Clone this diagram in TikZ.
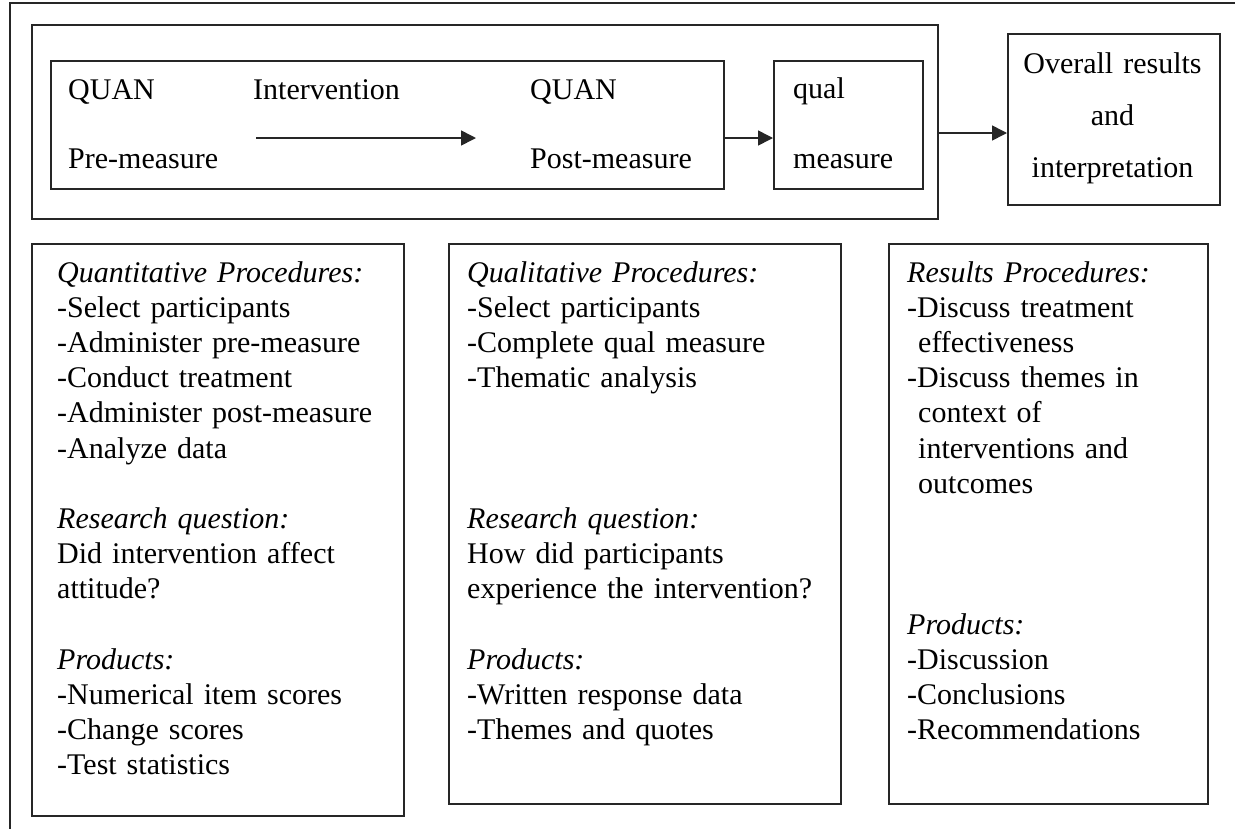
\documentclass[tikz,border=0pt]{standalone}
\usepackage{fontspec}
\setmainfont{Liberation Serif}
\usetikzlibrary{arrows.meta}
\begin{document}
\begin{tikzpicture}[x=1pt,y=1pt,
  frame/.style={draw=black!85, line width=1.6pt},
  box/.style={frame, rectangle, inner sep=0pt, anchor=north west},
  lbl/.style={font=\fontsize{30}{36}\selectfont, inner sep=0pt, anchor=base west},
  body/.style={font=\fontsize{30}{35.2}\selectfont, inner sep=0pt, anchor=base west, align=left},
  arr/.style={frame, -{Triangle[length=15pt,width=15pt]}}]
\useasboundingbox (0,0) rectangle (1235,-828);

% page frame (top and left rules)
\draw[frame] (1236,-3) -- (10,-3) -- (10,-829);

% top row: design stages
\node[box, minimum width=906pt, minimum height=194pt] (stage) at (31,-24) {};
\node[box, minimum width=673pt, minimum height=128pt] (quan) at (50,-60) {};
\node[box, minimum width=149pt, minimum height=128pt] (qual) at (773,-60) {};
\node[box, minimum width=212pt, minimum height=171pt] (overall) at (1007,-33) {};

\node[lbl] (quanA) at (68,-99) {QUAN};
\node[lbl] (preM) at (68,-168) {Pre-measure};
\node[lbl] (interv) at (253,-99) {Intervention};
\node[lbl] (quanB) at (530,-99) {QUAN};
\node[lbl] (postM) at (530,-168) {Post-measure};
\node[lbl] (qualA) at (793,-98) {qual};
\node[lbl] (qualM) at (793,-168) {measure};
\node[font=\fontsize{30}{52}\selectfont, inner sep=0pt, anchor=base,
      text width=205pt, align=center] (ovtxt) at (1112.5,-73)
      {Overall results\\and\\interpretation};

% connectors
\coordinate (ivS) at (256,-138);
\coordinate (ivE) at (476,-138);
\draw[arr] (ivS) -- (ivE);
\coordinate (rowA) at (0,-138);
\draw[arr] (quan.east |- rowA) -- (qual.west |- rowA);
\coordinate (rowB) at (0,-133);
\draw[arr] (stage.east |- rowB) -- (overall.west |- rowB);

% procedure boxes
\node[box, minimum width=372pt, minimum height=572pt] (quanbox) at (31,-243) {};
\node[box, minimum width=392pt, minimum height=560pt] (qualbox) at (448,-243) {};
\node[box, minimum width=319pt, minimum height=560pt] (resbox) at (888,-243) {};

\node[body, text width=340pt] (quantxt) at (57,-282)
 {\textit{Quantitative Procedures:}\\
  -Select participants\\
  -Administer pre-measure\\
  -Conduct treatment\\
  -Administer post-measure\\
  -Analyze data\\[35.2pt]
  \textit{Research question:}\\
  Did intervention affect\\
  attitude?\\[35.2pt]
  \textit{Products:}\\
  -Numerical item scores\\
  -Change scores\\
  -Test statistics};

\node[body, text width=360pt] (qualtxt) at (467,-282)
 {\textit{Qualitative Procedures:}\\
  -Select participants\\
  -Complete qual measure\\
  -Thematic analysis\\[105.6pt]
  \textit{Research question:}\\
  How did participants\\
  experience the intervention?\\[35.2pt]
  \textit{Products:}\\
  -Written response data\\
  -Themes and quotes};

\node[body, text width=290pt] (restxt) at (907,-282)
 {\textit{Results Procedures:}\\
  -Discuss treatment\\
  \hspace*{11pt}effectiveness\\
  -Discuss themes in\\
  \hspace*{11pt}context of\\
  \hspace*{11pt}interventions and\\
  \hspace*{11pt}outcomes\\[105.6pt]
  \textit{Products:}\\
  -Discussion\\
  -Conclusions\\
  -Recommendations};
\end{tikzpicture}
\end{document}
